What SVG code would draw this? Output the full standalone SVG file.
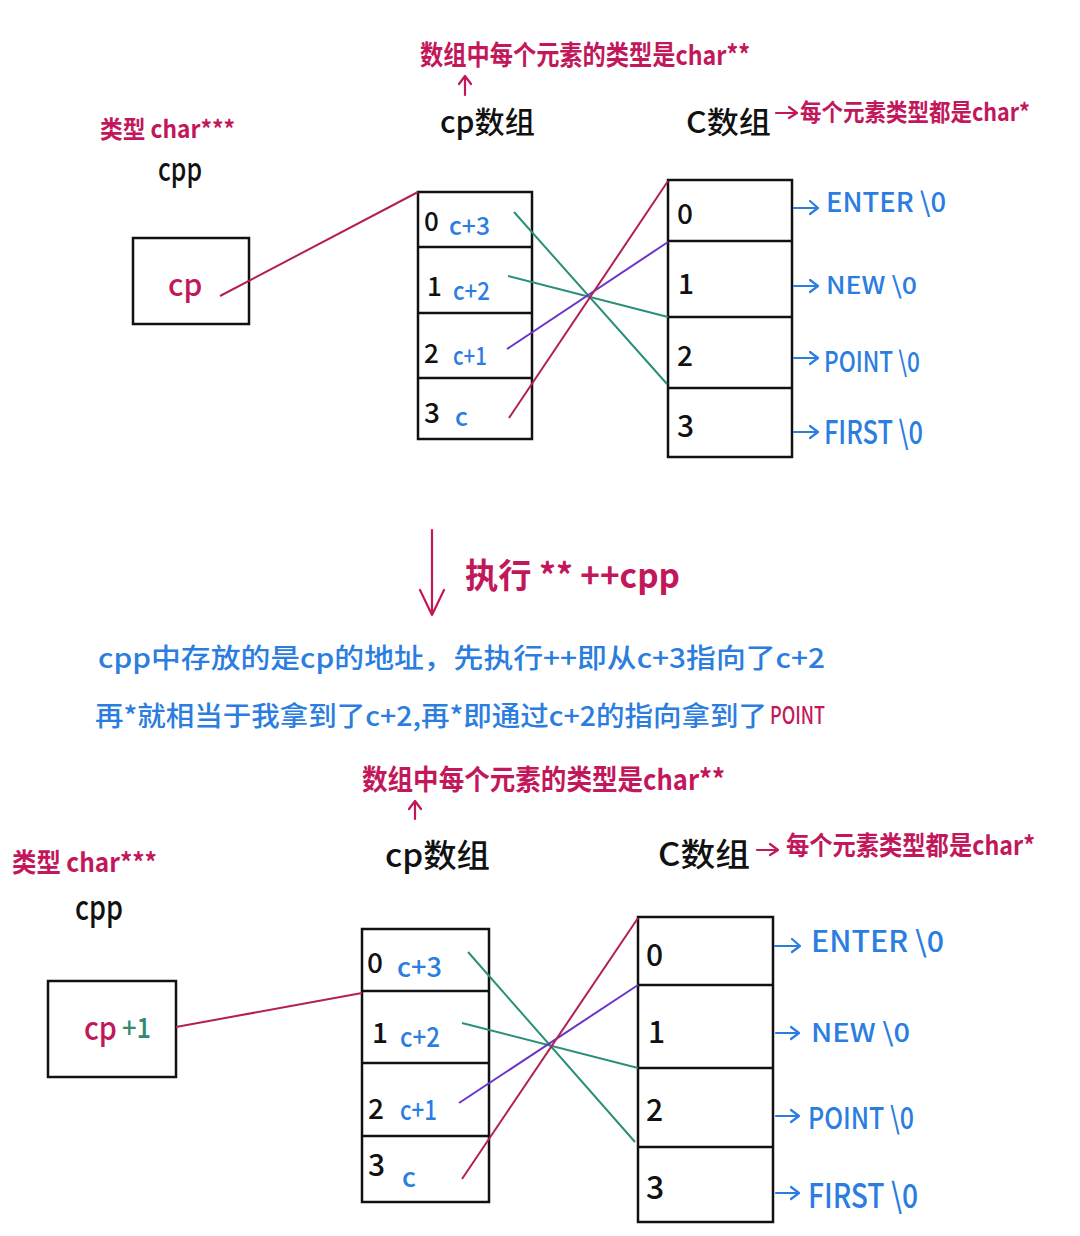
<svg xmlns="http://www.w3.org/2000/svg" width="1080" height="1236" viewBox="0 0 1080 1236">
<style>
text{font-family:"Noto Sans CJK SC","Liberation Sans",sans-serif}
.red{fill:#c2185b;font-weight:700}
.redm{fill:#c2185b;font-weight:500}
.blue{fill:#2b7de0;font-weight:500}
.blk{fill:#111;font-weight:500}
.grn{fill:#2e8b6e;font-weight:500}
.box{fill:#fff;stroke:#111;stroke-width:2.5}
.div{stroke:#111;stroke-width:2.5}
.lr{stroke:#b3204f;stroke-width:2;fill:none}
.lt{stroke:#2a8f7a;stroke-width:2;fill:none}
.lp{stroke:#6a35c8;stroke-width:2;fill:none}
.ab{stroke:#2b7de0;stroke-width:2.2;fill:none;stroke-linecap:round;stroke-linejoin:round}
.ar{stroke:#c2185b;stroke-width:2.2;fill:none;stroke-linecap:round;stroke-linejoin:round}
</style>
<rect width="1080" height="1236" fill="#fff"/>

<!-- ===== TOP ===== -->
<g id="top-labels">
<text class="red" x="420" y="65" font-size="27" textLength="330" lengthAdjust="spacingAndGlyphs">数组中每个元素的类型是char**</text>
<path class="ar" d="M465,95 V76 M459,84 L465,76 L471,84"/>
<text class="red" x="100" y="138" font-size="24" textLength="135" lengthAdjust="spacingAndGlyphs">类型 char***</text>
<text class="blk" x="158" y="181" font-size="32" textLength="44" lengthAdjust="spacingAndGlyphs">cpp</text>
<text class="blk" x="440" y="133" font-size="30" textLength="95" lengthAdjust="spacingAndGlyphs">cp数组</text>
<text class="blk" x="686" y="133" font-size="30" textLength="85" lengthAdjust="spacingAndGlyphs">C数组</text>
<path class="ar" d="M776,113 H796 M789,107 L797,113 L789,118"/>
<text class="red" x="800" y="121" font-size="24" textLength="230" lengthAdjust="spacingAndGlyphs">每个元素类型都是char*</text>
</g>

<g id="top-cpp">
<rect class="box" x="133" y="238" width="116" height="86"/>
<text class="redm" x="168" y="296" font-size="30">cp</text>
</g>

<g id="top-cp-array">
<rect class="box" x="418" y="192" width="114" height="247"/>
<line class="div" x1="418" y1="247" x2="532" y2="247"/>
<line class="div" x1="418" y1="313" x2="532" y2="313"/>
<line class="div" x1="418" y1="378" x2="532" y2="378"/>
<text class="blk" x="424" y="231" font-size="26">0</text>
<text class="blue" x="449" y="235" font-size="25" textLength="41" lengthAdjust="spacingAndGlyphs">c+3</text>
<text class="blk" x="427" y="296" font-size="26">1</text>
<text class="blue" x="453" y="300" font-size="25" textLength="37" lengthAdjust="spacingAndGlyphs">c+2</text>
<text class="blk" x="424" y="363" font-size="26">2</text>
<text class="blue" x="453" y="365" font-size="25" textLength="34" lengthAdjust="spacingAndGlyphs">c+1</text>
<text class="blk" x="424" y="423" font-size="28">3</text>
<text class="blue" x="455" y="426" font-size="25">c</text>
</g>

<g id="top-c-array">
<rect class="box" x="668" y="180" width="124" height="277"/>
<line class="div" x1="668" y1="241" x2="792" y2="241"/>
<line class="div" x1="668" y1="317" x2="792" y2="317"/>
<line class="div" x1="668" y1="388" x2="792" y2="388"/>
<text class="blk" x="677" y="224" font-size="28">0</text>
<text class="blk" x="678" y="294" font-size="28">1</text>
<text class="blk" x="677" y="366" font-size="28">2</text>
<text class="blk" x="677" y="437" font-size="30">3</text>
</g>

<g id="top-strings">
<path class="ab" d="M794,208 H816 M810,201 L818,208 L810,214"/>
<text class="blue" x="826" y="212" font-size="27" textLength="120" lengthAdjust="spacingAndGlyphs">ENTER \0</text>
<path class="ab" d="M794,286 H816 M810,280 L818,286 L810,292"/>
<text class="blue" x="826" y="294" font-size="24" textLength="91" lengthAdjust="spacingAndGlyphs">NEW \0</text>
<path class="ab" d="M794,358 H816 M810,352 L818,358 L810,364"/>
<text class="blue" x="824" y="372" font-size="28" textLength="96" lengthAdjust="spacingAndGlyphs">POINT \0</text>
<path class="ab" d="M794,432 H816 M810,426 L818,432 L810,438"/>
<text class="blue" x="824" y="444" font-size="32" textLength="99" lengthAdjust="spacingAndGlyphs">FIRST \0</text>
</g>

<g id="top-connectors">
<line class="lr" x1="220" y1="296" x2="418" y2="192"/>
<line class="lt" x1="514" y1="212" x2="667" y2="384"/>
<line class="lt" x1="508" y1="276" x2="668" y2="317"/>
<line class="lp" x1="507" y1="349" x2="668" y2="242"/>
<line class="lr" x1="509" y1="418" x2="668" y2="181"/>
</g>

<!-- ===== MIDDLE ===== -->
<g id="middle">
<path class="ar" d="M432,530 V615 M420,590 L432,615 L444,590"/>
<text class="red" x="465" y="588" font-size="34" textLength="215" lengthAdjust="spacingAndGlyphs">执行 ** ++cpp</text>
<text class="blue" x="98" y="668" font-size="27" textLength="727" lengthAdjust="spacingAndGlyphs">cpp中存放的是cp的地址，先执行++即从c+3指向了c+2</text>
<text class="blue" x="95" y="726" font-size="27" textLength="672" lengthAdjust="spacingAndGlyphs">再*就相当于我拿到了c+2,再*即通过c+2的指向拿到了</text>
<text class="redm" x="770" y="724" font-size="24" textLength="55" lengthAdjust="spacingAndGlyphs">POINT</text>
</g>

<!-- ===== BOTTOM ===== -->
<g id="bottom-labels">
<text class="red" x="362" y="790" font-size="28" textLength="363" lengthAdjust="spacingAndGlyphs">数组中每个元素的类型是char**</text>
<path class="ar" d="M415,819 V801 M409,809 L415,801 L421,809"/>
<text class="red" x="12" y="872" font-size="26" textLength="145" lengthAdjust="spacingAndGlyphs">类型 char***</text>
<text class="blk" x="75" y="920" font-size="34" textLength="48" lengthAdjust="spacingAndGlyphs">cpp</text>
<text class="blk" x="385" y="867" font-size="32" textLength="105" lengthAdjust="spacingAndGlyphs">cp数组</text>
<text class="blk" x="658" y="866" font-size="32" textLength="92" lengthAdjust="spacingAndGlyphs">C数组</text>
<path class="ar" d="M757,850 H777 M770,844 L778,850 L770,855"/>
<text class="red" x="786" y="855" font-size="26" textLength="249" lengthAdjust="spacingAndGlyphs">每个元素类型都是char*</text>
</g>

<g id="bottom-cpp">
<rect class="box" x="48" y="981" width="128" height="96"/>
<text class="redm" x="84" y="1040" font-size="32" textLength="33" lengthAdjust="spacingAndGlyphs">cp</text>
<text class="grn" x="122" y="1038" font-size="28" textLength="29" lengthAdjust="spacingAndGlyphs">+1</text>
</g>

<g id="bottom-cp-array">
<rect class="box" x="362" y="929" width="127" height="273"/>
<line class="div" x1="362" y1="991" x2="489" y2="991"/>
<line class="div" x1="362" y1="1063" x2="489" y2="1063"/>
<line class="div" x1="362" y1="1136" x2="489" y2="1136"/>
<text class="blk" x="367" y="973" font-size="28">0</text>
<text class="blue" x="397" y="977" font-size="27" textLength="45" lengthAdjust="spacingAndGlyphs">c+3</text>
<text class="blk" x="372" y="1043" font-size="28">1</text>
<text class="blue" x="400" y="1047" font-size="27" textLength="40" lengthAdjust="spacingAndGlyphs">c+2</text>
<text class="blk" x="368" y="1119" font-size="28">2</text>
<text class="blue" x="400" y="1120" font-size="27" textLength="37" lengthAdjust="spacingAndGlyphs">c+1</text>
<text class="blk" x="368" y="1176" font-size="30">3</text>
<text class="blue" x="402" y="1187" font-size="27">c</text>
</g>

<g id="bottom-c-array">
<rect class="box" x="638" y="917" width="135" height="305"/>
<line class="div" x1="638" y1="985" x2="773" y2="985"/>
<line class="div" x1="638" y1="1068" x2="773" y2="1068"/>
<line class="div" x1="638" y1="1147" x2="773" y2="1147"/>
<text class="blk" x="646" y="966" font-size="30">0</text>
<text class="blk" x="648" y="1043" font-size="30">1</text>
<text class="blk" x="646" y="1121" font-size="30">2</text>
<text class="blk" x="646" y="1199" font-size="32">3</text>
</g>

<g id="bottom-strings">
<path class="ab" d="M775,946 H799 M792,939 L800,946 L792,952"/>
<text class="blue" x="811" y="952" font-size="29" textLength="133" lengthAdjust="spacingAndGlyphs">ENTER \0</text>
<path class="ab" d="M776,1033 H798 M791,1027 L799,1033 L791,1039"/>
<text class="blue" x="811" y="1042" font-size="26" textLength="99" lengthAdjust="spacingAndGlyphs">NEW \0</text>
<path class="ab" d="M776,1116 H798 M791,1110 L799,1116 L791,1122"/>
<text class="blue" x="808" y="1129" font-size="30" textLength="106" lengthAdjust="spacingAndGlyphs">POINT \0</text>
<path class="ab" d="M776,1193 H798 M791,1187 L799,1193 L791,1199"/>
<text class="blue" x="808" y="1208" font-size="34" textLength="110" lengthAdjust="spacingAndGlyphs">FIRST \0</text>
</g>

<g id="bottom-connectors">
<line class="lr" x1="176" y1="1027" x2="362" y2="993"/>
<line class="lt" x1="468" y1="952" x2="635" y2="1142"/>
<line class="lt" x1="462" y1="1023" x2="638" y2="1068"/>
<line class="lp" x1="459" y1="1103" x2="638" y2="985"/>
<line class="lr" x1="462" y1="1179" x2="638" y2="918"/>
</g>
</svg>
